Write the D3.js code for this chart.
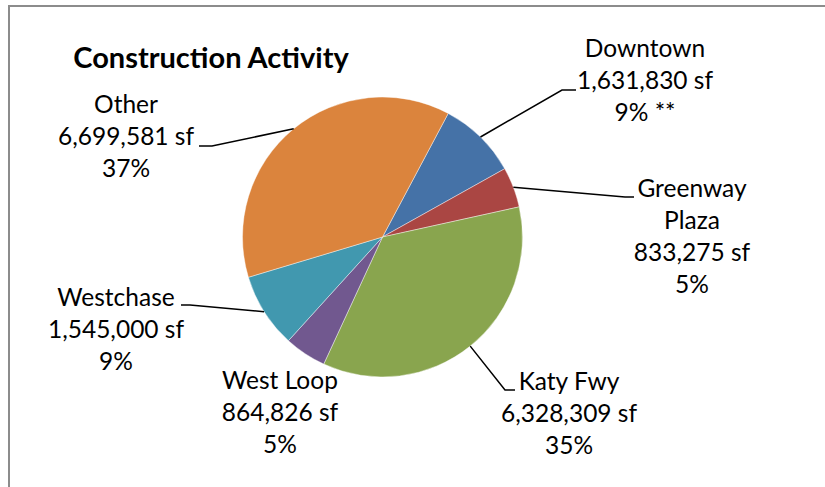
<!DOCTYPE html>
<html>
<head>
<meta charset="utf-8">
<script src="https://cdn.jsdelivr.net/npm/d3@7"></script>
<style>
  html, body { margin: 0; padding: 0; background: #fff; }
  svg { display: block; }
  text { font-family: Lato, "Open Sans", sans-serif; fill: #000; }
</style>
</head>
<body>
<svg id="chart" width="825" height="487"></svg>
<script>
// ---- data ----
const categories = ["Downtown", "Greenway Plaza", "Katy Fwy", "West Loop", "Westchase", "Other"];
const values = [1631830, 833275, 6328309, 864826, 1545000, 6699581];
const percentLabels = ["9% **", "5%", "35%", "5%", "9%", "37%"];
const nameLines = [["Downtown"], ["Greenway", "Plaza"], ["Katy Fwy"], ["West Loop"], ["Westchase"], ["Other"]];
const colors = ["#4572A7", "#AA4643", "#89A54E", "#71588F", "#4198AF", "#DB843D"];
const title = "Construction Activity";

// ---- layout ----
const W = 825, H = 487;
const cx = 382.5, cy = 237, R = 140;
const firstSliceDeg = 28;
const lineH = 32;
// label layout: center x, first baseline, leader elbow and end (null = no leader)
const labelLayout = [
  { x: 645, y: 57,  elbow: [562, 90],  end: [576, 90] },
  { x: 692, y: 197, elbow: [625, 197], end: [634, 197] },
  { x: 569, y: 390, elbow: [505, 390], end: [515, 390] },
  { x: 280, y: 389, elbow: null, end: null },
  { x: 116, y: 306, elbow: [190, 305], end: [181, 305] },
  { x: 126, y: 113, elbow: [212, 146], end: [199, 146] }
];

const svg = d3.select("#chart");
svg.append("rect").attr("x", 0).attr("y", 0).attr("width", W).attr("height", H).attr("fill", "#fff");

// outer border (only top and left visible)
svg.append("path")
  .attr("d", `M9,${H} L9,6 L${W},6`)
  .attr("fill", "none").attr("stroke", "#8c8c8c").attr("stroke-width", 2);

// title
svg.append("text")
  .attr("x", 211).attr("y", 68)
  .attr("text-anchor", "middle")
  .style("font-weight", "bold").style("font-size", "29px")
  .text(title);

const data = categories.map((c, i) => ({ name: c, value: values[i], i }));
const a0 = firstSliceDeg * Math.PI / 180;
const pie = d3.pie().value(d => d.value).sort(null).startAngle(a0).endAngle(a0 + 2 * Math.PI);
const arcs = pie(data);
const arc = d3.arc().innerRadius(0).outerRadius(R);

const g = svg.append("g").attr("transform", `translate(${cx},${cy})`);
g.selectAll("path.slice").data(arcs).enter().append("path")
  .attr("class", "slice")
  .attr("d", arc)
  .attr("fill", d => colors[d.data.i])
  .attr("stroke", "#ffffff").attr("stroke-width", 0.6).attr("stroke-opacity", 0.7);

// leader lines
const fmt = d3.format(",");
arcs.forEach(d => {
  const L = labelLayout[d.data.i];
  if (L.elbow) {
    const mid = (d.startAngle + d.endAngle) / 2;
    const sx = cx + R * Math.sin(mid), sy = cy - R * Math.cos(mid);
    svg.append("polyline")
      .attr("points", [[sx, sy], L.elbow, L.end].map(p => p.join(",")).join(" "))
      .attr("fill", "none").attr("stroke", "#000").attr("stroke-width", 1.5);
  }
});

// labels
arcs.forEach(d => {
  const i = d.data.i;
  const L = labelLayout[i];
  const lines = nameLines[i].concat([fmt(values[i]) + " sf", percentLabels[i]]);
  const t = svg.append("text").attr("text-anchor", "middle").style("font-size", "24.5px");
  lines.forEach((s, k) => {
    t.append("tspan").attr("x", L.x).attr("y", L.y + k * lineH).text(s);
  });
});
</script>
</body>
</html>
